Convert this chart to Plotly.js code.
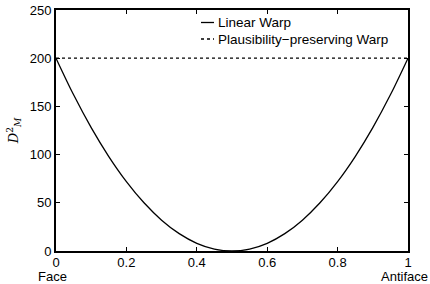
<!DOCTYPE html>
<html>
<head>
<meta charset="utf-8">
<script src="https://cdn.plot.ly/plotly-3.0.1.min.js"></script>
<style>html,body{margin:0;padding:0;background:#fff;}#chart{width:430px;height:284px;}</style>
</head>
<body>
<div id="chart"></div>
<script>
const positions = [0, 0.05, 0.1, 0.15, 0.2, 0.25, 0.3, 0.35, 0.4, 0.45, 0.5, 0.55, 0.6, 0.65, 0.7, 0.75, 0.8, 0.85, 0.9, 0.95, 1];
const linearWarp = [200, 162, 128, 98, 72, 50, 32, 18, 8, 2, 0, 2, 8, 18, 32, 50, 72, 98, 128, 162, 200];
const plausPositions = [0, 1];
const plausWarp = [200, 200];
const xTickVals = [0, 0.2, 0.4, 0.6, 0.8, 1];
const xTickText = ['0', '0.2', '0.4', '0.6', '0.8', '1'];
const endLabels = ['Face', 'Antiface'];
const yTickVals = [0, 50, 100, 150, 200, 250];
const seriesNames = ['Linear Warp', 'Plausibility\u2212preserving Warp'];

const W = 430, H = 284;
const M = {l: 56, r: 22, t: 10, b: 33};
const pw = W - M.l - M.r, ph = H - M.t - M.b;
const px = v => (v - M.l) / pw;
const py = v => (H - M.b - v) / ph;

const font = {family: 'Liberation Sans, Arial, sans-serif', size: 13.5, color: '#000'};
const tickFont = {family: 'Liberation Sans, Arial, sans-serif', size: 13, color: '#000'};

const data = [
  {x: positions, y: linearWarp, type: 'scatter', mode: 'lines', name: seriesNames[0],
   line: {color: '#000', width: 1.3, shape: 'spline'}},
  {x: plausPositions, y: plausWarp, type: 'scatter', mode: 'lines', name: seriesNames[1],
   line: {color: '#000', width: 1.2, dash: 'dot'}}
];

// manual legend (short key lines as in the reference)
const legendRows = [22.5, 39];
const legendDash = ['solid', 'dot'];
const shapes = legendRows.map((r, i) => ({
  type: 'line', xref: 'paper', yref: 'paper', x0: px(201), x1: px(214), y0: py(r), y1: py(r),
  line: {color: '#000', width: 1.3, dash: legendDash[i]}
}));
const annotations = legendRows.map((r, i) => ({
  xref: 'paper', yref: 'paper', x: px(216), y: py(r), xanchor: 'left', yanchor: 'middle',
  text: seriesNames[i], showarrow: false, font: font
}));
annotations.push(
  {xref: 'x', yref: 'paper', x: xTickVals[0], y: py(276.5), xanchor: 'center', yanchor: 'middle',
   text: endLabels[0], showarrow: false, font: tickFont, xshift: -4, borderpad: 0},
  {xref: 'x', yref: 'paper', x: xTickVals[xTickVals.length - 1], y: py(276.5), xanchor: 'center', yanchor: 'middle',
   text: endLabels[1], showarrow: false, font: tickFont, xshift: -4, borderpad: 0}
);

const layout = {
  width: W, height: H,
  margin: M,
  paper_bgcolor: '#fff', plot_bgcolor: '#fff',
  font: font,
  showlegend: false,
  shapes: shapes,
  annotations: annotations,
  xaxis: {range: [0, 1], tickvals: xTickVals, ticktext: xTickText, ticks: 'inside', ticklen: 4,
          tickcolor: '#000', showline: true, linecolor: '#000', linewidth: 2, mirror: 'ticks',
          showgrid: false, zeroline: false, tickfont: tickFont, ticklabelstandoff: -2},
  yaxis: {range: [0, 250], tickvals: yTickVals, ticks: 'inside', ticklen: 4, tickcolor: '#000',
          showline: true, linecolor: '#000', linewidth: 2, mirror: 'ticks', showgrid: false,
          zeroline: false, tickfont: tickFont, ticklabelstandoff: 0,
          title: {text: '<i>D</i><sup>2</sup><sub><i>M</i></sub>', font: {family: 'DejaVu Serif, serif', size: 13, color: '#000'}, standoff: 8}}
};
Plotly.newPlot('chart', data, layout, {displayModeBar: false, staticPlot: true});
</script>
</body>
</html>
